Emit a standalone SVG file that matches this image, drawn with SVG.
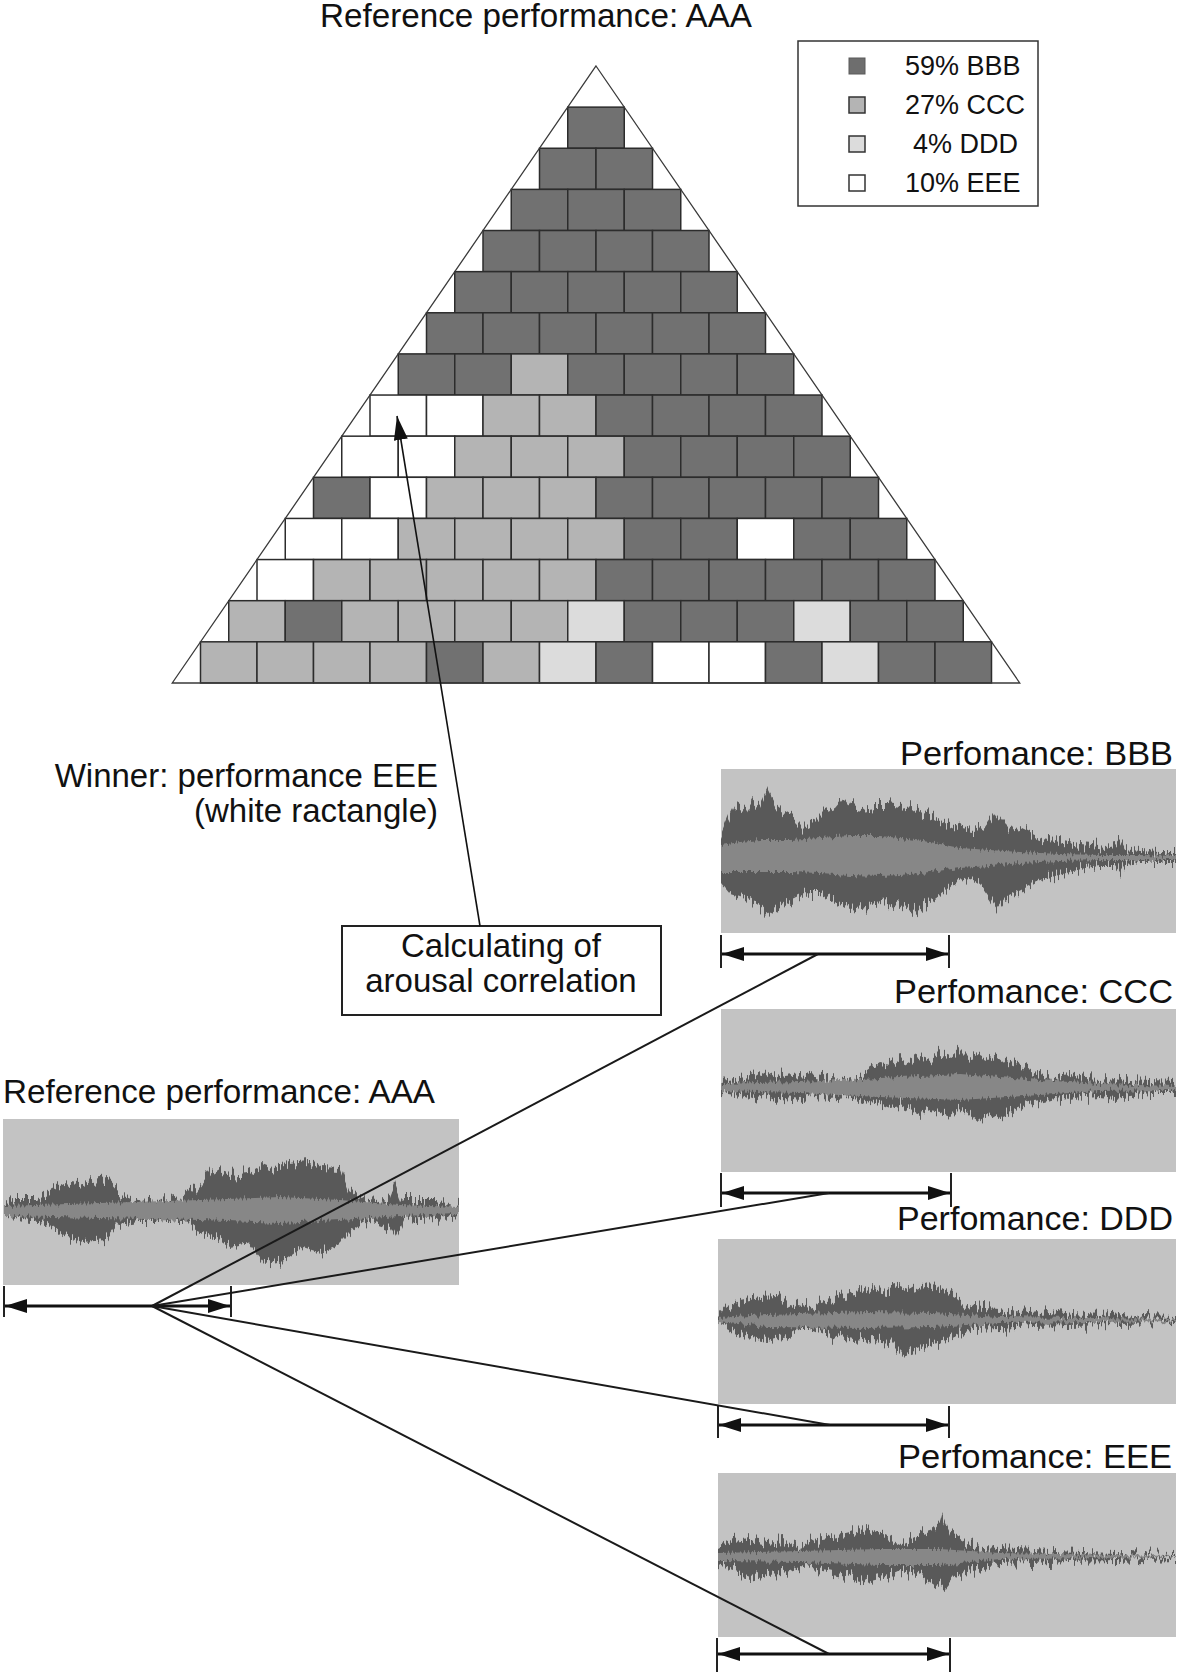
<svg xmlns="http://www.w3.org/2000/svg" width="1180" height="1674" viewBox="0 0 1180 1674">
<style>
  text { font-family: "Liberation Sans", Arial, sans-serif; fill: #111; }
  .big { font-size: 33px; }
  .leg { font-size: 27px; }
  .b { fill: #717171; }
  .c { fill: #b4b4b4; }
  .d { fill: #dcdcdc; }
  .e { fill: #ffffff; }
  .cell { stroke: #2c2c2c; stroke-width: 1.5; }
  .bg { fill: #c3c3c3; }
  .outer { fill: #595959; }
  .core { fill: #878787; }
  .tick { stroke: #222; stroke-width: 2; fill: none; }
  .dim { stroke: #111; stroke-width: 3; fill: none; marker-start: url(#dimArrow); marker-end: url(#dimArrow); }
  .fan { stroke: #1a1a1a; stroke-width: 2; fill: none; }
</style>
<defs>
  <marker id="dimArrow" markerUnits="userSpaceOnUse" viewBox="0 0 22 14" markerWidth="22" markerHeight="14" refX="22" refY="7" orient="auto-start-reverse">
    <path d="M0,0 L22,7 L0,14 Z" fill="#111"/>
  </marker>
  <marker id="ptr" markerUnits="userSpaceOnUse" viewBox="0 0 24 14" markerWidth="24" markerHeight="14" refX="24" refY="7" orient="auto">
    <path d="M0,0 L24,7 L0,14 Z" fill="#111"/>
  </marker>
  <filter id="jag" x="-2%" y="-60%" width="104%" height="220%" color-interpolation-filters="sRGB">
    <feTurbulence type="fractalNoise" baseFrequency="0.5 0.008" numOctaves="3" seed="4" result="n"/>
    <feColorMatrix in="n" type="matrix" values="0 0 0 0 0.5  0 1 0 0 0  0 0 0 0 0  0 0 0 0 1" result="m"/>
    <feDisplacementMap in="SourceGraphic" in2="m" scale="26" xChannelSelector="R" yChannelSelector="G"/>
  </filter>
  <filter id="jag2" x="-2%" y="-60%" width="104%" height="220%" color-interpolation-filters="sRGB">
    <feTurbulence type="fractalNoise" baseFrequency="0.5 0.02" numOctaves="2" seed="9" result="n"/>
    <feColorMatrix in="n" type="matrix" values="0 0 0 0 0.5  0 1 0 0 0  0 0 0 0 0  0 0 0 0 1" result="m"/>
    <feDisplacementMap in="SourceGraphic" in2="m" scale="10" xChannelSelector="R" yChannelSelector="G"/>
  </filter>
  <rect id="cb" class="cell b" width="56.5" height="41.13"/>
  <rect id="cc" class="cell c" width="56.5" height="41.13"/>
  <rect id="cd" class="cell d" width="56.5" height="41.13"/>
  <rect id="ce" class="cell e" width="56.5" height="41.13"/>
</defs>
<rect width="1180" height="1674" fill="#ffffff"/>

<g id="title">
  <text class="big" x="320" y="27" textLength="432" lengthAdjust="spacingAndGlyphs">Reference performance: AAA</text>
</g>

<g id="pyramid">
  <g transform="translate(567.75,107.13)"><use href="#cb" x="0"/></g>
  <g transform="translate(539.5,148.26)"><use href="#cb" x="0"/><use href="#cb" x="56.5"/></g>
  <g transform="translate(511.25,189.39)"><use href="#cb" x="0"/><use href="#cb" x="56.5"/><use href="#cb" x="113"/></g>
  <g transform="translate(483,230.52)"><use href="#cb" x="0"/><use href="#cb" x="56.5"/><use href="#cb" x="113"/><use href="#cb" x="169.5"/></g>
  <g transform="translate(454.75,271.65)"><use href="#cb" x="0"/><use href="#cb" x="56.5"/><use href="#cb" x="113"/><use href="#cb" x="169.5"/><use href="#cb" x="226"/></g>
  <g transform="translate(426.5,312.78)"><use href="#cb" x="0"/><use href="#cb" x="56.5"/><use href="#cb" x="113"/><use href="#cb" x="169.5"/><use href="#cb" x="226"/><use href="#cb" x="282.5"/></g>
  <g transform="translate(398.25,353.91)"><use href="#cb" x="0"/><use href="#cb" x="56.5"/><use href="#cc" x="113"/><use href="#cb" x="169.5"/><use href="#cb" x="226"/><use href="#cb" x="282.5"/><use href="#cb" x="339"/></g>
  <g transform="translate(370,395.04)"><use href="#ce" x="0"/><use href="#ce" x="56.5"/><use href="#cc" x="113"/><use href="#cc" x="169.5"/><use href="#cb" x="226"/><use href="#cb" x="282.5"/><use href="#cb" x="339"/><use href="#cb" x="395.5"/></g>
  <g transform="translate(341.75,436.17)"><use href="#ce" x="0"/><use href="#ce" x="56.5"/><use href="#cc" x="113"/><use href="#cc" x="169.5"/><use href="#cc" x="226"/><use href="#cb" x="282.5"/><use href="#cb" x="339"/><use href="#cb" x="395.5"/><use href="#cb" x="452"/></g>
  <g transform="translate(313.5,477.3)"><use href="#cb" x="0"/><use href="#ce" x="56.5"/><use href="#cc" x="113"/><use href="#cc" x="169.5"/><use href="#cc" x="226"/><use href="#cb" x="282.5"/><use href="#cb" x="339"/><use href="#cb" x="395.5"/><use href="#cb" x="452"/><use href="#cb" x="508.5"/></g>
  <g transform="translate(285.25,518.43)"><use href="#ce" x="0"/><use href="#ce" x="56.5"/><use href="#cc" x="113"/><use href="#cc" x="169.5"/><use href="#cc" x="226"/><use href="#cc" x="282.5"/><use href="#cb" x="339"/><use href="#cb" x="395.5"/><use href="#ce" x="452"/><use href="#cb" x="508.5"/><use href="#cb" x="565"/></g>
  <g transform="translate(257,559.56)"><use href="#ce" x="0"/><use href="#cc" x="56.5"/><use href="#cc" x="113"/><use href="#cc" x="169.5"/><use href="#cc" x="226"/><use href="#cc" x="282.5"/><use href="#cb" x="339"/><use href="#cb" x="395.5"/><use href="#cb" x="452"/><use href="#cb" x="508.5"/><use href="#cb" x="565"/><use href="#cb" x="621.5"/></g>
  <g transform="translate(228.75,600.69)"><use href="#cc" x="0"/><use href="#cb" x="56.5"/><use href="#cc" x="113"/><use href="#cc" x="169.5"/><use href="#cc" x="226"/><use href="#cc" x="282.5"/><use href="#cd" x="339"/><use href="#cb" x="395.5"/><use href="#cb" x="452"/><use href="#cb" x="508.5"/><use href="#cd" x="565"/><use href="#cb" x="621.5"/><use href="#cb" x="678"/></g>
  <g transform="translate(200.5,641.82)"><use href="#cc" x="0"/><use href="#cc" x="56.5"/><use href="#cc" x="113"/><use href="#cc" x="169.5"/><use href="#cb" x="226"/><use href="#cc" x="282.5"/><use href="#cd" x="339"/><use href="#cb" x="395.5"/><use href="#ce" x="452"/><use href="#ce" x="508.5"/><use href="#cb" x="565"/><use href="#cd" x="621.5"/><use href="#cb" x="678"/><use href="#cb" x="734.5"/></g>
  <path d="M596,66 L1019.75,683 L172.25,683 Z" fill="none" stroke="#3a3a3a" stroke-width="1.3"/>
</g>

<g id="legend">
  <rect x="798" y="41" width="240" height="165" fill="#fff" stroke="#333" stroke-width="1.5"/>
  <rect x="849" y="58" width="16" height="16" fill="#6e6e6e" stroke="#5a5a5a" stroke-width="1"/>
  <rect x="849" y="97" width="16" height="16" fill="#b4b4b4" stroke="#333" stroke-width="1.5"/>
  <rect x="849" y="136" width="16" height="16" fill="#dcdcdc" stroke="#333" stroke-width="1.5"/>
  <rect x="849" y="175" width="16" height="16" fill="#ffffff" stroke="#333" stroke-width="1.5"/>
  <text class="leg" x="905" y="75">59% BBB</text>
  <text class="leg" x="905" y="114">27% CCC</text>
  <text class="leg" x="913" y="153">4% DDD</text>
  <text class="leg" x="905" y="192">10% EEE</text>
</g>

<g id="winner-label">
  <text class="big" x="438" y="787" text-anchor="end">Winner: performance EEE</text>
  <text class="big" x="438" y="822" text-anchor="end">(white ractangle)</text>
</g>

<g id="calc-box">
  <rect x="342" y="926" width="319" height="89" fill="#fff" stroke="#222" stroke-width="2"/>
  <text class="big" x="501" y="957" text-anchor="middle">Calculating of</text>
  <text class="big" x="501" y="992" text-anchor="middle">arousal correlation</text>
</g>

<g id="wave-aaa">
  <text class="big" x="3" y="1103" textLength="432" lengthAdjust="spacingAndGlyphs">Reference performance: AAA</text>
  <rect class="bg" x="3" y="1119" width="456" height="166"/>
  <path class="outer" filter="url(#jag)" d="M4,1207 L14,1200 37,1200 50,1190 64,1183 78,1185 92,1182 108,1180 119,1192 138,1200 161,1202 184,1197 197,1187 211,1168 230,1175 248,1173 262,1165 275,1170 289,1162 308,1160 321,1167 340,1168 349,1190 363,1200 376,1202 390,1196 395,1183 400,1196 404,1200 422,1200 436,1200 459,1207 L459,1215 436,1218 404,1220 400,1228 395,1237 390,1228 367,1220 349,1233 335,1247 321,1253 303,1247 285,1260 264,1263 248,1243 230,1247 216,1237 197,1230 184,1220 138,1220 119,1223 106,1240 83,1242 64,1237 46,1223 23,1220 4,1215 Z"/>
  <path class="core" filter="url(#jag2)" d="M4,1206 L100,1203 200,1200 280,1197 340,1200 400,1205 459,1207 L459,1214 400,1216 340,1220 280,1223 200,1220 100,1218 4,1216 Z"/>
  <line class="tick" x1="4" y1="1286" x2="4" y2="1317"/>
  <line class="tick" x1="231" y1="1286" x2="231" y2="1317"/>
  <line class="dim" x1="5" y1="1306" x2="230" y2="1306"/>
</g>

<g id="wave-bbb">
  <text class="big" x="1173" y="765" text-anchor="end" textLength="273" lengthAdjust="spacingAndGlyphs">Perfomance: BBB</text>
  <rect class="bg" x="721" y="769" width="455" height="164"/>
  <path class="outer" filter="url(#jag)" d="M721,836 L728,820 735,806 745,812 752,800 760,806 768,790 775,804 785,812 795,818 805,828 815,822 825,812 835,808 845,796 852,806 862,808 875,806 888,806 900,808 912,806 920,812 930,815 940,820 950,824 962,830 972,832 985,826 995,812 1002,822 1010,830 1020,828 1030,833 1042,838 1055,840 1068,843 1080,845 1092,846 1105,848 1115,846 1120,840 1125,849 1140,851 1160,852 1176,852 L1176,862 1160,862 1140,862 1125,864 1120,872 1115,866 1100,866 1085,868 1070,872 1055,876 1040,880 1025,888 1015,893 1005,898 997,908 990,898 980,884 970,878 958,880 945,892 935,900 925,904 913,912 900,906 888,902 875,904 862,908 850,910 840,904 830,898 820,892 810,892 800,897 790,902 780,908 770,914 760,906 750,900 740,896 730,893 721,882 Z"/>
  <path class="core" filter="url(#jag2)" d="M721,845 L740,842 760,840 790,840 820,838 850,836 880,836 900,838 930,842 960,848 990,850 1020,852 1060,854 1100,855 1140,855 1176,856 L1176,860 1140,860 1100,860 1060,861 1020,863 990,866 960,868 930,872 900,875 880,876 850,875 820,873 790,872 760,872 740,872 721,872 Z"/>
  <line class="tick" x1="721" y1="935" x2="721" y2="968"/>
  <line class="tick" x1="949" y1="935" x2="949" y2="968"/>
  <line class="dim" x1="722" y1="954" x2="948" y2="954"/>
</g>

<g id="wave-ccc">
  <text class="big" x="1173" y="1003" text-anchor="end" textLength="279" lengthAdjust="spacingAndGlyphs">Perfomance: CCC</text>
  <rect class="bg" x="721" y="1009" width="455" height="163"/>
  <path class="outer" filter="url(#jag)" d="M721,1082 L735,1080 745,1078 755,1074 765,1077 775,1072 785,1076 800,1074 815,1077 830,1079 845,1080 860,1075 870,1068 880,1062 890,1064 900,1058 910,1062 920,1056 930,1060 940,1054 950,1058 960,1050 968,1058 978,1055 988,1060 998,1054 1008,1062 1018,1066 1028,1070 1040,1074 1055,1078 1070,1076 1085,1079 1100,1080 1115,1078 1130,1081 1150,1082 1176,1083 L1176,1093 1150,1093 1130,1096 1115,1098 1100,1096 1085,1097 1070,1100 1055,1098 1040,1102 1028,1104 1018,1110 1008,1114 998,1118 988,1114 978,1122 968,1114 960,1110 950,1116 940,1112 930,1110 920,1114 910,1110 900,1106 890,1108 880,1104 870,1102 860,1098 845,1096 830,1098 815,1096 800,1100 785,1098 775,1100 765,1096 755,1100 745,1096 735,1094 721,1092 Z"/>
  <path class="core" filter="url(#jag2)" d="M721,1084 L800,1082 880,1078 960,1074 1040,1080 1100,1084 1176,1086 L1176,1090 1100,1091 1040,1095 960,1100 880,1097 800,1093 721,1091 Z"/>
  <line class="tick" x1="721" y1="1173" x2="721" y2="1207"/>
  <line class="tick" x1="951" y1="1173" x2="951" y2="1207"/>
  <line class="dim" x1="722" y1="1193" x2="950" y2="1193"/>
</g>

<g id="wave-ddd">
  <text class="big" x="1173" y="1230" text-anchor="end" textLength="276" lengthAdjust="spacingAndGlyphs">Perfomance: DDD</text>
  <rect class="bg" x="718" y="1239" width="458" height="165"/>
  <path class="outer" filter="url(#jag)" d="M718,1317 L727,1307 740,1302 760,1298 777,1297 790,1303 810,1308 827,1302 840,1297 860,1293 873,1287 887,1290 900,1285 913,1290 928,1285 940,1288 957,1297 967,1305 983,1307 1000,1308 1020,1313 1050,1310 1073,1313 1100,1315 1123,1313 1143,1317 1176,1318 L1176,1322 1117,1323 1067,1324 1033,1325 1000,1327 973,1328 960,1333 947,1340 933,1343 917,1350 903,1355 890,1342 873,1340 853,1342 833,1337 813,1328 800,1328 787,1337 767,1342 747,1338 733,1330 718,1323 Z"/>
  <path class="core" filter="url(#jag2)" d="M718,1318 L767,1315 867,1312 933,1313 1000,1317 1176,1319 L1176,1321 1000,1323 933,1327 867,1328 767,1327 718,1322 Z"/>
  <line class="tick" x1="718" y1="1406" x2="718" y2="1438"/>
  <line class="tick" x1="949" y1="1406" x2="949" y2="1438"/>
  <line class="dim" x1="719" y1="1425" x2="948" y2="1425"/>
</g>

<g id="wave-eee">
  <text class="big" x="1172" y="1468" text-anchor="end" textLength="274" lengthAdjust="spacingAndGlyphs">Perfomance: EEE</text>
  <rect class="bg" x="718" y="1473" width="458" height="164"/>
  <path class="outer" filter="url(#jag)" d="M718,1548 L733,1540 750,1538 767,1542 783,1540 800,1547 817,1540 833,1537 850,1533 867,1528 883,1535 900,1543 917,1535 933,1530 940,1522 942,1515 945,1522 950,1533 967,1543 983,1548 1017,1550 1050,1552 1083,1553 1117,1554 1176,1555 L1176,1558 1117,1560 1067,1561 1033,1563 1000,1564 967,1570 953,1580 945,1590 937,1586 933,1583 917,1573 900,1570 883,1578 867,1582 850,1577 833,1573 817,1570 800,1567 783,1572 767,1573 750,1577 733,1570 718,1565 Z"/>
  <path class="core" filter="url(#jag2)" d="M718,1553 L800,1551 880,1549 940,1549 1000,1553 1176,1556 L1176,1557 1000,1559 940,1565 880,1565 800,1562 718,1561 Z"/>
  <line class="tick" x1="717" y1="1638" x2="717" y2="1672"/>
  <line class="tick" x1="950" y1="1638" x2="950" y2="1672"/>
  <line class="dim" x1="718" y1="1654" x2="949" y2="1654"/>
</g>

<g id="connectors">
  <line x1="480" y1="926" x2="397" y2="416" stroke="#111" stroke-width="1.6" marker-end="url(#ptr)"/>
  <line class="fan" x1="152" y1="1306" x2="818" y2="954"/>
  <line class="fan" x1="152" y1="1306" x2="829" y2="1193"/>
  <line class="fan" x1="152" y1="1306" x2="830" y2="1425"/>
  <line class="fan" x1="152" y1="1306" x2="829" y2="1654"/>
</g>
</svg>
